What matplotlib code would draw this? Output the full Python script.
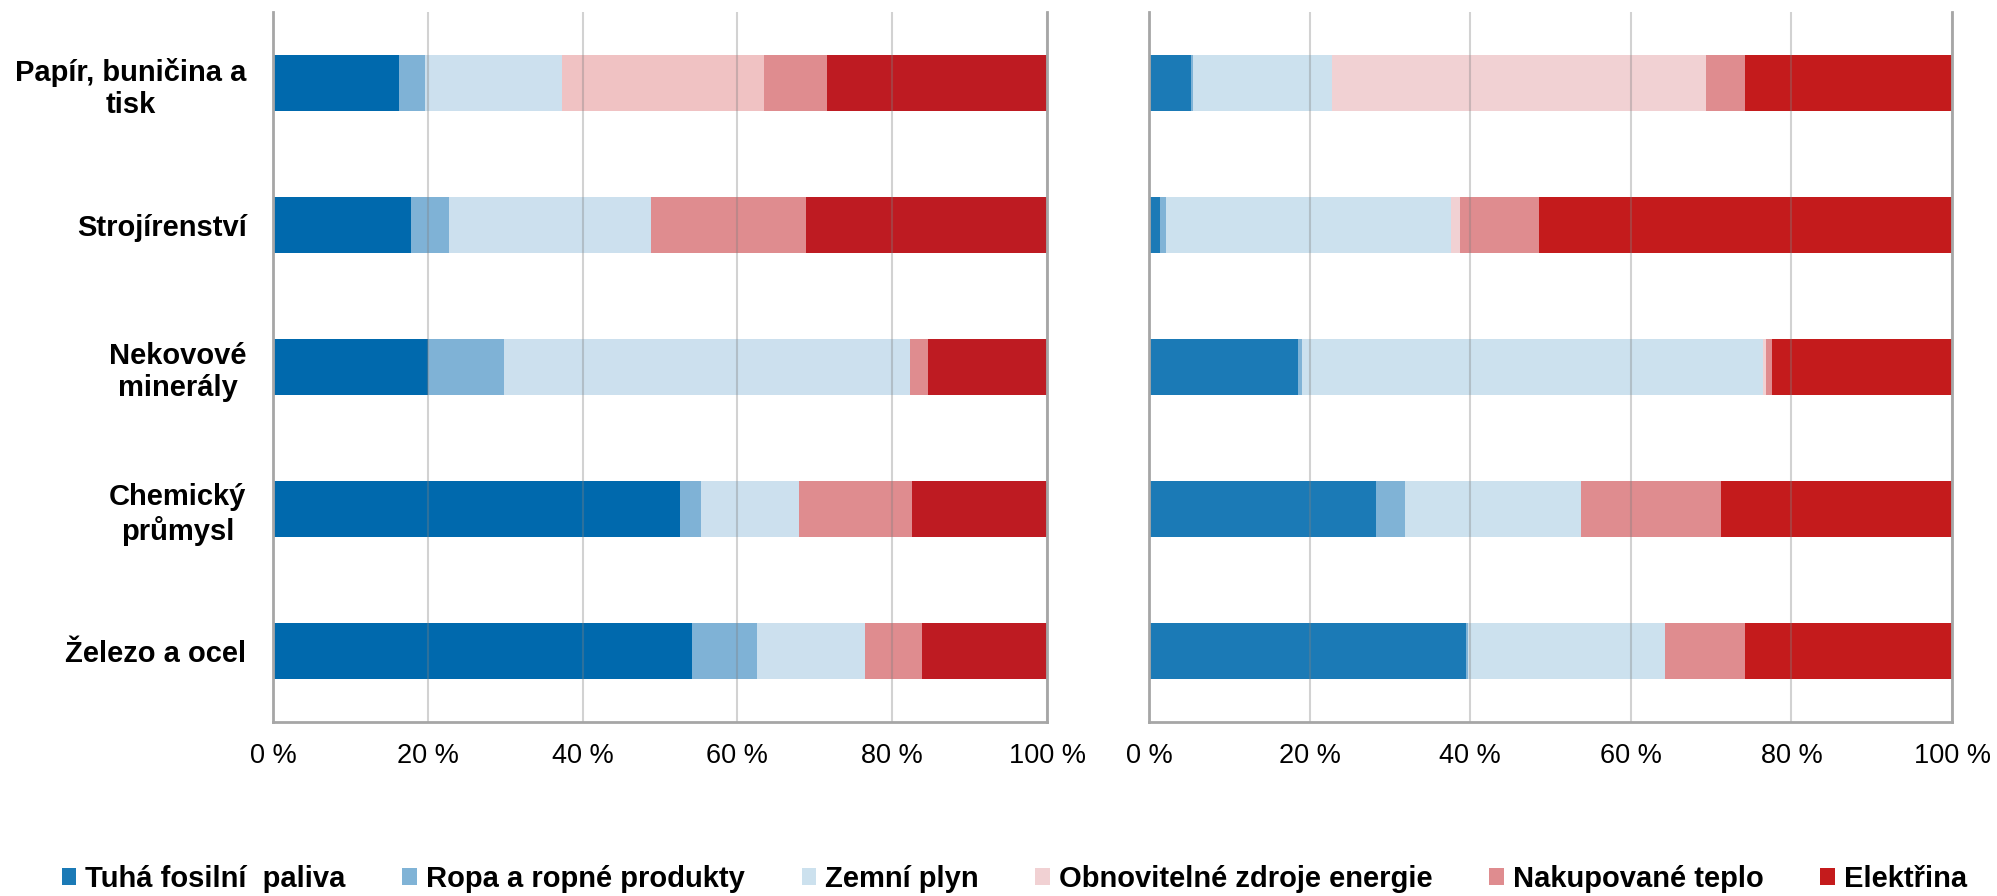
import matplotlib
matplotlib.use("Agg")
import matplotlib.pyplot as plt
import numpy as np

plt.rcParams['font.family'] = ['Liberation Sans', 'DejaVu Sans']

categories = ["Papír, buničina a\ntisk", "Strojírenství", "Nekovové\nminerály",
              "Chemický\nprůmysl", "Železo a ocel"]
series_names = ["Tuhá fosilní  paliva", "Ropa a ropné produkty", "Zemní plyn",
                "Obnovitelné zdroje energie", "Nakupované teplo", "Elektřina"]

# Left panel values (%), order follows categories
left_tuha   = [16.3, 17.8, 20.0, 52.6, 54.1]
left_ropa   = [3.4, 5.0, 9.8, 2.7, 8.4]
left_plyn   = [17.6, 26.0, 52.5, 12.6, 14.0]
left_oze    = [26.1, 0.0, 0.0, 0.0, 0.0]
left_teplo  = [8.2, 20.1, 2.3, 14.7, 7.3]
left_elek   = [28.4, 31.1, 15.4, 17.4, 16.2]

# Right panel values (%)
right_tuha  = [5.2, 1.4, 18.5, 28.2, 39.5]
right_ropa  = [0.3, 0.7, 0.6, 3.7, 0.2]
right_plyn  = [17.3, 35.5, 57.4, 21.9, 24.5]
right_oze   = [46.6, 1.1, 0.3, 0.0, 0.0]
right_teplo = [4.8, 9.8, 0.8, 17.4, 10.0]
right_elek  = [25.8, 51.5, 22.4, 28.8, 25.8]

xticks = [0, 20, 40, 60, 80, 100]
xtick_labels = ["0 %", "20 %", "40 %", "60 %", "80 %", "100 %"]

left_colors = ['#0069AD', '#7FB2D6', '#CCE0EE', '#F0C2C3', '#DF8C8F', '#BE1B22']
right_colors = ['#1B7AB6', '#80B3D6', '#CCE1EE', '#F1D1D3', '#DF8C8F', '#C41B1C']

left_data = [left_tuha, left_ropa, left_plyn, left_oze, left_teplo, left_elek]
right_data = [right_tuha, right_ropa, right_plyn, right_oze, right_teplo, right_elek]

fig = plt.figure(figsize=(19.97, 8.96), dpi=100)
ax1 = fig.add_axes([0.1367, 0.1942, 0.5243 - 0.1367, 0.9866 - 0.1942])
ax2 = fig.add_axes([0.5754, 0.1942, 0.9775 - 0.5754, 0.9866 - 0.1942])

y = np.arange(len(categories))


def draw(ax, data, colors):
    left = np.zeros(len(categories))
    bars = []
    for vals, col, name in zip(data, colors, series_names):
        v = np.array(vals, dtype=float)
        b = ax.barh(y, v, left=left, height=0.4, color=col, label=name, zorder=2)
        bars.append(b)
        left += v
    ax.set_xlim(0, 100)
    ax.set_ylim(len(categories) - 0.5, -0.5)
    ax.set_xticks(xticks)
    ax.set_xticklabels(xtick_labels, fontsize=19.5)
    ax.tick_params(axis='x', length=0, pad=15)
    ax.tick_params(axis='y', length=0)
    ax.grid(axis='x', color='#808080', alpha=0.35, linewidth=1.5, zorder=3)
    ax.set_axisbelow(False)
    for s in ['left', 'right', 'bottom']:
        ax.spines[s].set_color('#A6A6A6')
        ax.spines[s].set_linewidth(2)
        ax.spines[s].set_zorder(4)
    ax.spines['top'].set_visible(False)
    return bars


draw(ax1, left_data, left_colors)
bars_r = draw(ax2, right_data, right_colors)

ax1.set_yticks(y)
ax1.set_yticklabels(categories, fontsize=21, fontweight='bold')
for lbl in ax1.get_yticklabels():
    lbl.set_multialignment('center')
ax1.tick_params(axis='y', pad=19)
ax2.set_yticks([])

fig.legend(handles=bars_r, labels=series_names, loc='center left',
           bbox_to_anchor=(0.031, 0.019), ncol=6, frameon=False,
           prop={'size': 21, 'weight': 'bold'}, handlelength=0.5,
           handleheight=0.5, handletextpad=0.3, columnspacing=1.95,
           borderpad=0, borderaxespad=0)

fig.savefig("out.png", dpi=100)
